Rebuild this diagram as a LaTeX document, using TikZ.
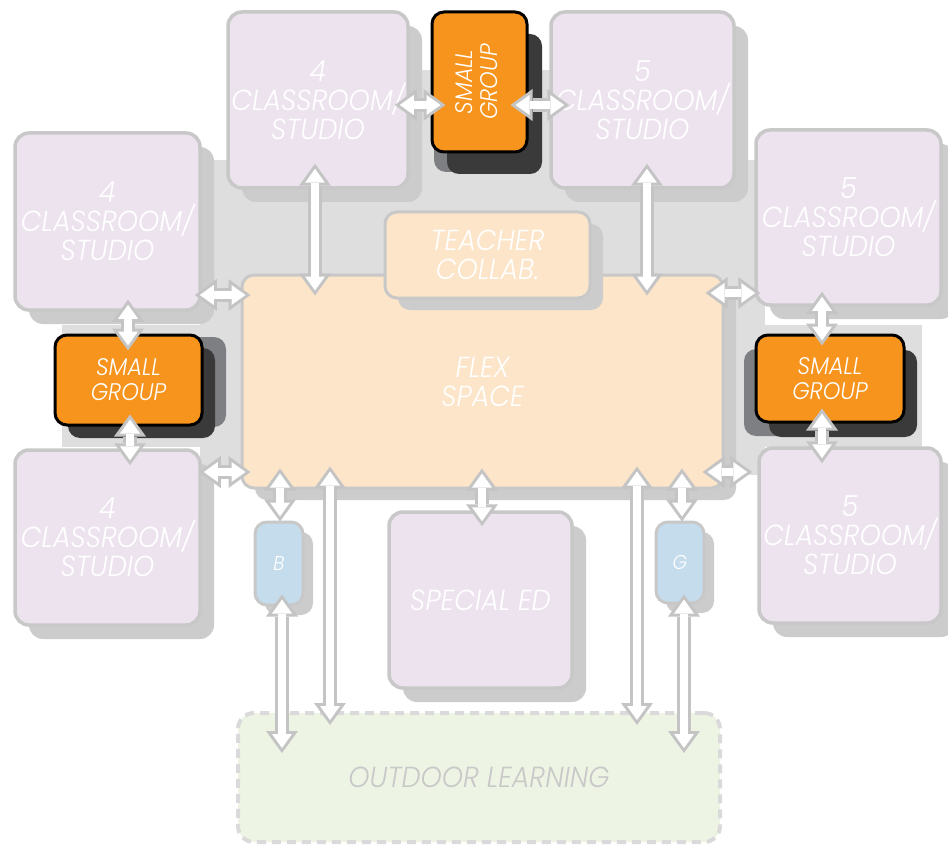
\documentclass[tikz,border=0pt]{standalone}
\usepackage{fontspec}
\usepackage{graphicx}
\newfontfamily\lbl{Poppins Light Italic}[FakeStretch=0.93]
\usetikzlibrary{arrows.meta,calc,shadows}
\definecolor{lav}{HTML}{EDE3EF}
\definecolor{bord}{HTML}{C8C8C8}
\definecolor{shad}{HTML}{CCCCCC}
\definecolor{corr}{HTML}{DEDEDE}
\definecolor{peach}{HTML}{FCE5C8}
\definecolor{orng}{HTML}{F7941D}
\definecolor{darksh}{HTML}{3A3A3A}
\definecolor{midg}{HTML}{7E7F83}
\definecolor{lblue}{HTML}{C5DCEC}
\definecolor{lgreen}{HTML}{EEF4E4}
\definecolor{dashg}{HTML}{DADADA}
\definecolor{arrg}{HTML}{C4C4C4}
\definecolor{outg}{HTML}{C8C8C8}
\tikzset{
  gshadow/.style={drop shadow={shadow xshift=14pt, shadow yshift=-14pt, fill=shad, opacity=1}},
  room/.style={draw=bord, line width=3.5pt, fill=lav, rounded corners=14pt, inner sep=0pt,
    align=center, text=white, font=\lbl\fontsize{29}{29}\selectfont, gshadow},
  peachbox/.style={draw=bord, line width=3pt, fill=peach, rounded corners=12pt, inner sep=0pt,
    align=center, text=white, font=\lbl\fontsize{29}{29}\selectfont,
    drop shadow={shadow xshift=13pt, shadow yshift=-12pt, fill=shad, opacity=1}},
  sgbox/.style={draw=black, line width=3pt, fill=orng, rounded corners=12pt, inner sep=0pt,
    align=center, text=white, font=\lbl\fontsize{24}{25}\selectfont},
  bath/.style={draw=bord, line width=3pt, fill=lblue, rounded corners=12pt, inner sep=0pt,
    align=center, text=white, font=\lbl\fontsize{20}{20}\selectfont,
    drop shadow={shadow xshift=10pt, shadow yshift=-10pt, fill=shad, opacity=1}},
  conn/.style={draw=white, line width=8pt, shorten <=5pt, shorten >=5pt,
    {Triangle[length=14pt,width=20pt,line width=0pt]}-{Triangle[length=14pt,width=20pt,line width=0pt]},
    preaction={draw=arrg, line width=14pt, shorten <=0pt, shorten >=0pt,
      {Triangle[length=22pt,width=32pt,line width=0pt]}-{Triangle[length=22pt,width=32pt,line width=0pt]}}}
}
\begin{document}
\begin{tikzpicture}[x=1pt,y=-1pt]
\useasboundingbox (0,0) rectangle (948,845);
\fill[white] (0,0) rectangle (948,845);
% corridor
\fill[corr] (200,160) rectangle (765,475);
\fill[corr] (410,70) rectangle (551,200);
\fill[corr] (62,325) rectangle (245,447);
\fill[corr] (735,325) rectangle (922,447);

% outdoor
\node[draw=dashg, line width=4pt, dash pattern=on 9pt off 6pt, fill=lgreen, rounded corners=16pt,
  minimum width=482pt, minimum height=129pt, inner sep=0pt, text=outg,
  font=\lbl\fontsize{29}{29}\selectfont] (outd) at (479,777.5) {OUTDOOR LEARNING};

% flex + teacher
\node[peachbox, minimum width=481pt, minimum height=213pt] (flex) at (482.5,381.5) {FLEX\\SPACE};
\node[peachbox, minimum width=205pt, minimum height=86pt] (teach) at (487.5,255) {TEACHER\\COLLAB.};

% classrooms
\node[room, minimum width=180pt, minimum height=176pt] (cTL) at (318,100) {4\\CLASSROOM/\\STUDIO};
\node[room, minimum width=183pt, minimum height=176pt] (cTR) at (642.5,100) {5\\CLASSROOM/\\STUDIO};
\node[room, minimum width=185pt, minimum height=177pt] (cL1) at (107.5,221.5) {4\\CLASSROOM/\\STUDIO};
\node[room, minimum width=185pt, minimum height=175pt] (cR1) at (848.5,217.5) {5\\CLASSROOM/\\STUDIO};
\node[room, minimum width=185pt, minimum height=175pt] (cL2) at (107.5,537.5) {4\\CLASSROOM/\\STUDIO};
\node[room, minimum width=182pt, minimum height=175pt] (cR2) at (850,535.5) {5\\CLASSROOM/\\STUDIO};
\node[room, minimum width=183pt, minimum height=176pt] (sped) at (480.5,600) {SPECIAL ED};

% small groups
\node[sgbox, minimum width=147pt, minimum height=90pt,
  general shadow={shadow xshift=24pt, shadow yshift=-2pt, fill=midg},
  general shadow={shadow xshift=13pt, shadow yshift=-13pt, fill=darksh}] (sgL) at (128.5,380) {SMALL\\GROUP};
\node[sgbox, minimum width=148pt, minimum height=87pt,
  general shadow={shadow xshift=-12pt, shadow yshift=-14pt, fill=midg},
  general shadow={shadow xshift=13pt, shadow yshift=-15pt, fill=darksh}] (sgR) at (830,378.5) {SMALL\\GROUP};
\node[sgbox, minimum width=95pt, minimum height=140pt,
  general shadow={shadow xshift=2pt, shadow yshift=-20pt, fill=midg},
  general shadow={shadow xshift=15pt, shadow yshift=-22pt, fill=darksh}] (sgT) at (479.5,82)
  {\rotatebox{90}{\begin{tabular}{@{}c@{}}SMALL\\GROUP\end{tabular}}};

% restrooms
\node[bath, minimum width=48pt, minimum height=83pt] (B) at (279,563.5) {B};
\node[bath, minimum width=48pt, minimum height=81pt] (G) at (680,562.5) {G};

% connectors
\draw[conn] ($(cTL.south)+(-3,-26)$) -- ($(flex.north)+(-167.5,22)$);
\draw[conn] ($(cTR.south)+(4.5,-26)$) -- ($(flex.north)+(164.5,22)$);
\draw[conn] ($(cTL.east)+(-15,5)$) -- ($(sgT.west)+(15,23)$);
\draw[conn] ($(sgT.east)+(-18,23)$) -- ($(cTR.west)+(20,5)$);
\draw[conn] ($(cL1.east)+(-7,73.5)$) -- ($(flex.west)+(10,-86.5)$);
\draw[conn] ($(flex.east)+(-19,-88.5)$) -- ($(cR1.west)+(6,75.5)$);
\draw[conn] ($(cL1.south)+(20.5,-12)$) -- ($(sgL.north)+(-0.5,17)$);
\draw[conn] ($(sgL.south)+(1.5,-12)$) -- ($(cL2.north)+(22.5,17)$);
\draw[conn] ($(cL2.east)+(-3,-65.5)$) -- ($(flex.west)+(10,90.5)$);
\draw[conn] ($(flex.east)+(-22,90.5)$) -- ($(cR2.west)+(-5,-63.5)$);
\draw[conn] ($(cR1.south)+(-26.5,-15)$) -- ($(sgR.north)+(-8,12)$);
\draw[conn] ($(sgR.south)+(-8,-15)$) -- ($(cR2.north)+(-28,17)$);
\draw[conn] ($(flex.south)+(-202.5,-21)$) -- ($(B.north)+(1,1)$);
\draw[conn] ($(flex.south)+(-152.5,-23)$) -- ($(outd.north)+(-149,14)$);
\draw[conn] ($(B.south)+(3,-12)$) -- ($(outd.north)+(-197,42)$);
\draw[conn] ($(flex.south)+(-0.5,-21)$) -- ($(sped.north)+(1.5,16)$);
\draw[conn] ($(flex.south)+(154.5,-23)$) -- ($(outd.north)+(158,14)$);
\draw[conn] ($(flex.south)+(199.5,-21)$) -- ($(G.north)+(2,1)$);
\draw[conn] ($(G.south)+(4,-10)$) -- ($(outd.north)+(205,42)$);
\end{tikzpicture}
\end{document}
